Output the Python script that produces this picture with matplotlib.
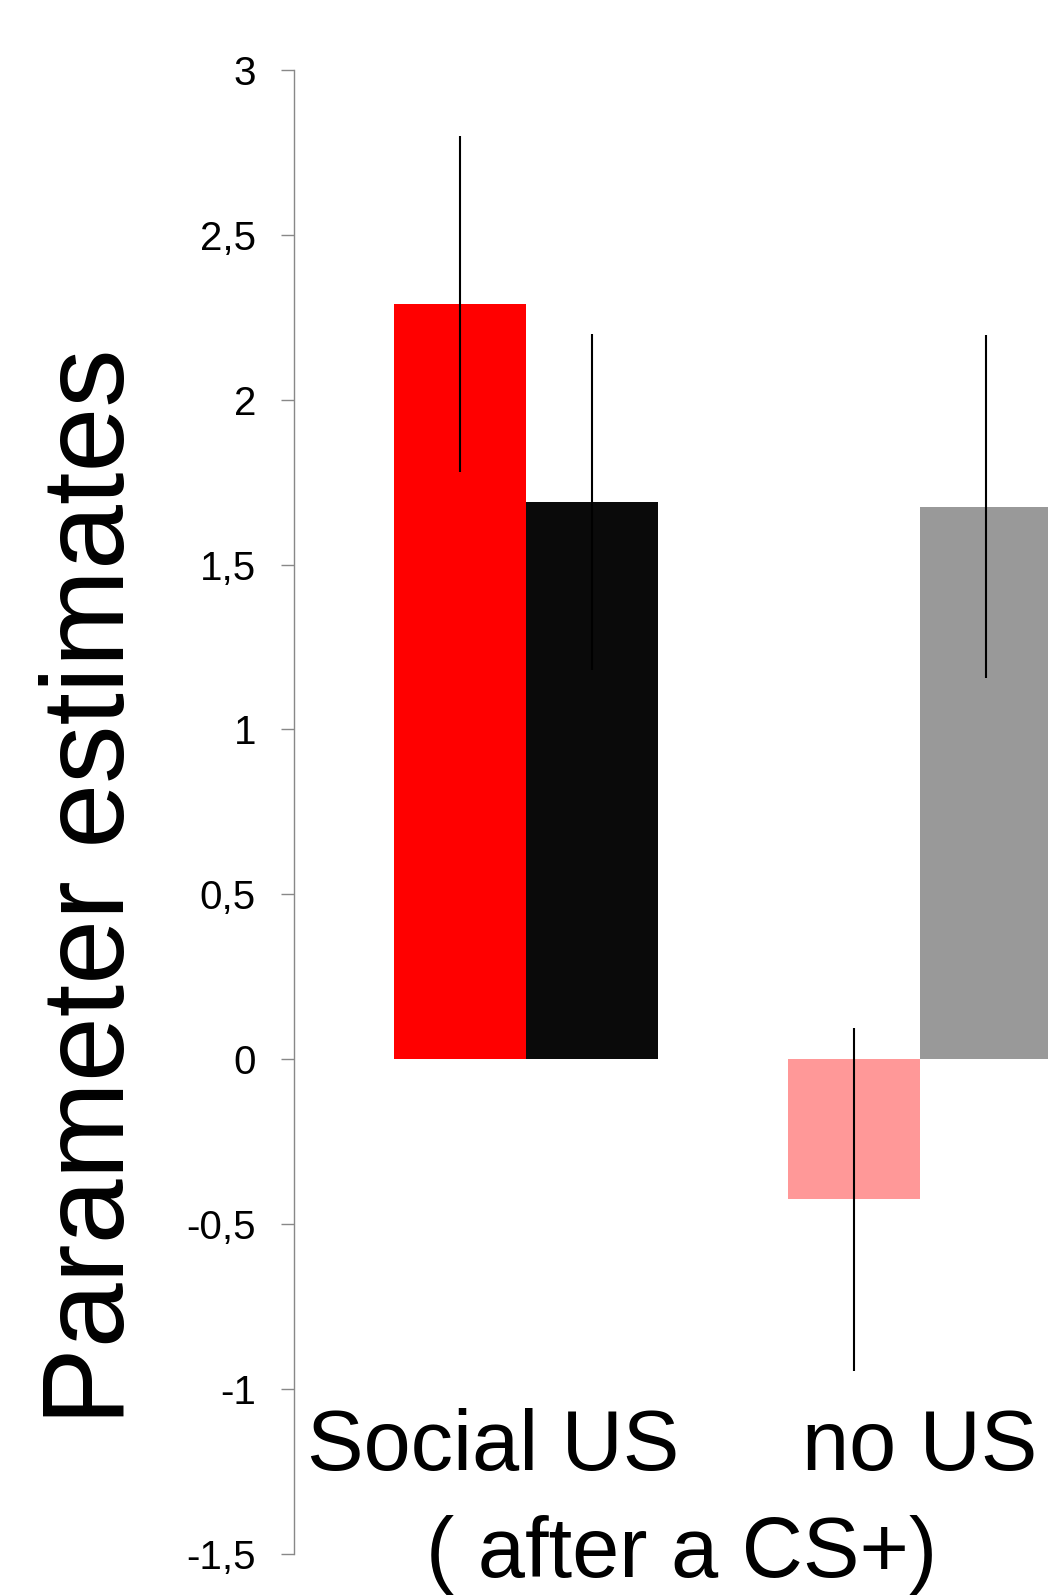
import matplotlib
matplotlib.use("Agg")
from matplotlib import pyplot as plt
from matplotlib import transforms
import numpy as np

plt.rcParams["font.family"] = ["Liberation Sans", "DejaVu Sans"]

# data
categories = ["Social US", "no US"]
subtitle = "( after a CS+)"
first_values = [2.29, -0.425]      # red / light red bars
first_errors = [0.51, 0.52]
second_values = [1.69, 1.675]      # black / grey bars
second_errors = [0.51, 0.52]
first_colors = ["#ff0000", "#ff9898"]
second_colors = ["#0a0a0a", "#999999"]
yticks = [-1.5, -1, -0.5, 0, 0.5, 1, 1.5, 2, 2.5, 3]

fig = plt.figure(figsize=(10.48, 15.96), dpi=100)
ax = fig.add_axes([294 / 1048, 1 - 1553.6 / 1596, 1 - 294 / 1048, (1553.6 - 70) / 1596])

x = np.arange(len(categories))
w = 0.335
ax.bar(x - w / 2, first_values, w, color=first_colors, linewidth=0)
ax.bar(x + w / 2, second_values, w, color=second_colors, linewidth=0)
ax.vlines(x - w / 2, np.array(first_values) - first_errors,
          np.array(first_values) + first_errors, color="black", lw=1.5)
ax.vlines(x + w / 2, np.array(second_values) - second_errors,
          np.array(second_values) + second_errors, color="black", lw=1.5)

ax.set_ylim(-1.5, 3)
ax.set_xlim(-0.589, 1.325)
ax.set_yticks(yticks)
ax.set_yticklabels([f"{t:g}".replace(".", ",") for t in yticks], fontsize=29)
ax.tick_params(axis="y", length=9.4, width=1, color="#888888", pad=18)
ax.set_xticks([])
for side in ["top", "right", "bottom"]:
    ax.spines[side].set_visible(False)
ax.spines["left"].set_color("#888888")
ax.spines["left"].set_linewidth(1)

# category labels below the bars
trans = transforms.blended_transform_factory(ax.transData, fig.transFigure)
ax.text(-0.084, 1 - 1470 / 1596, categories[0], transform=trans, ha="center",
        va="baseline", fontsize=61, clip_on=False)
ax.text(1.0, 1 - 1470 / 1596, categories[1], transform=trans, ha="center",
        va="baseline", fontsize=61, clip_on=False)
ax.text(0.396, 1 - 1577 / 1596, subtitle, transform=trans, ha="center",
        va="baseline", fontsize=61, clip_on=False)

fig.text(124 / 1048, 1 - 887 / 1596, "Parameter estimates", rotation=90,
         rotation_mode="anchor", ha="center", va="baseline", fontsize=84)

plt.savefig("out.png", dpi=100)
